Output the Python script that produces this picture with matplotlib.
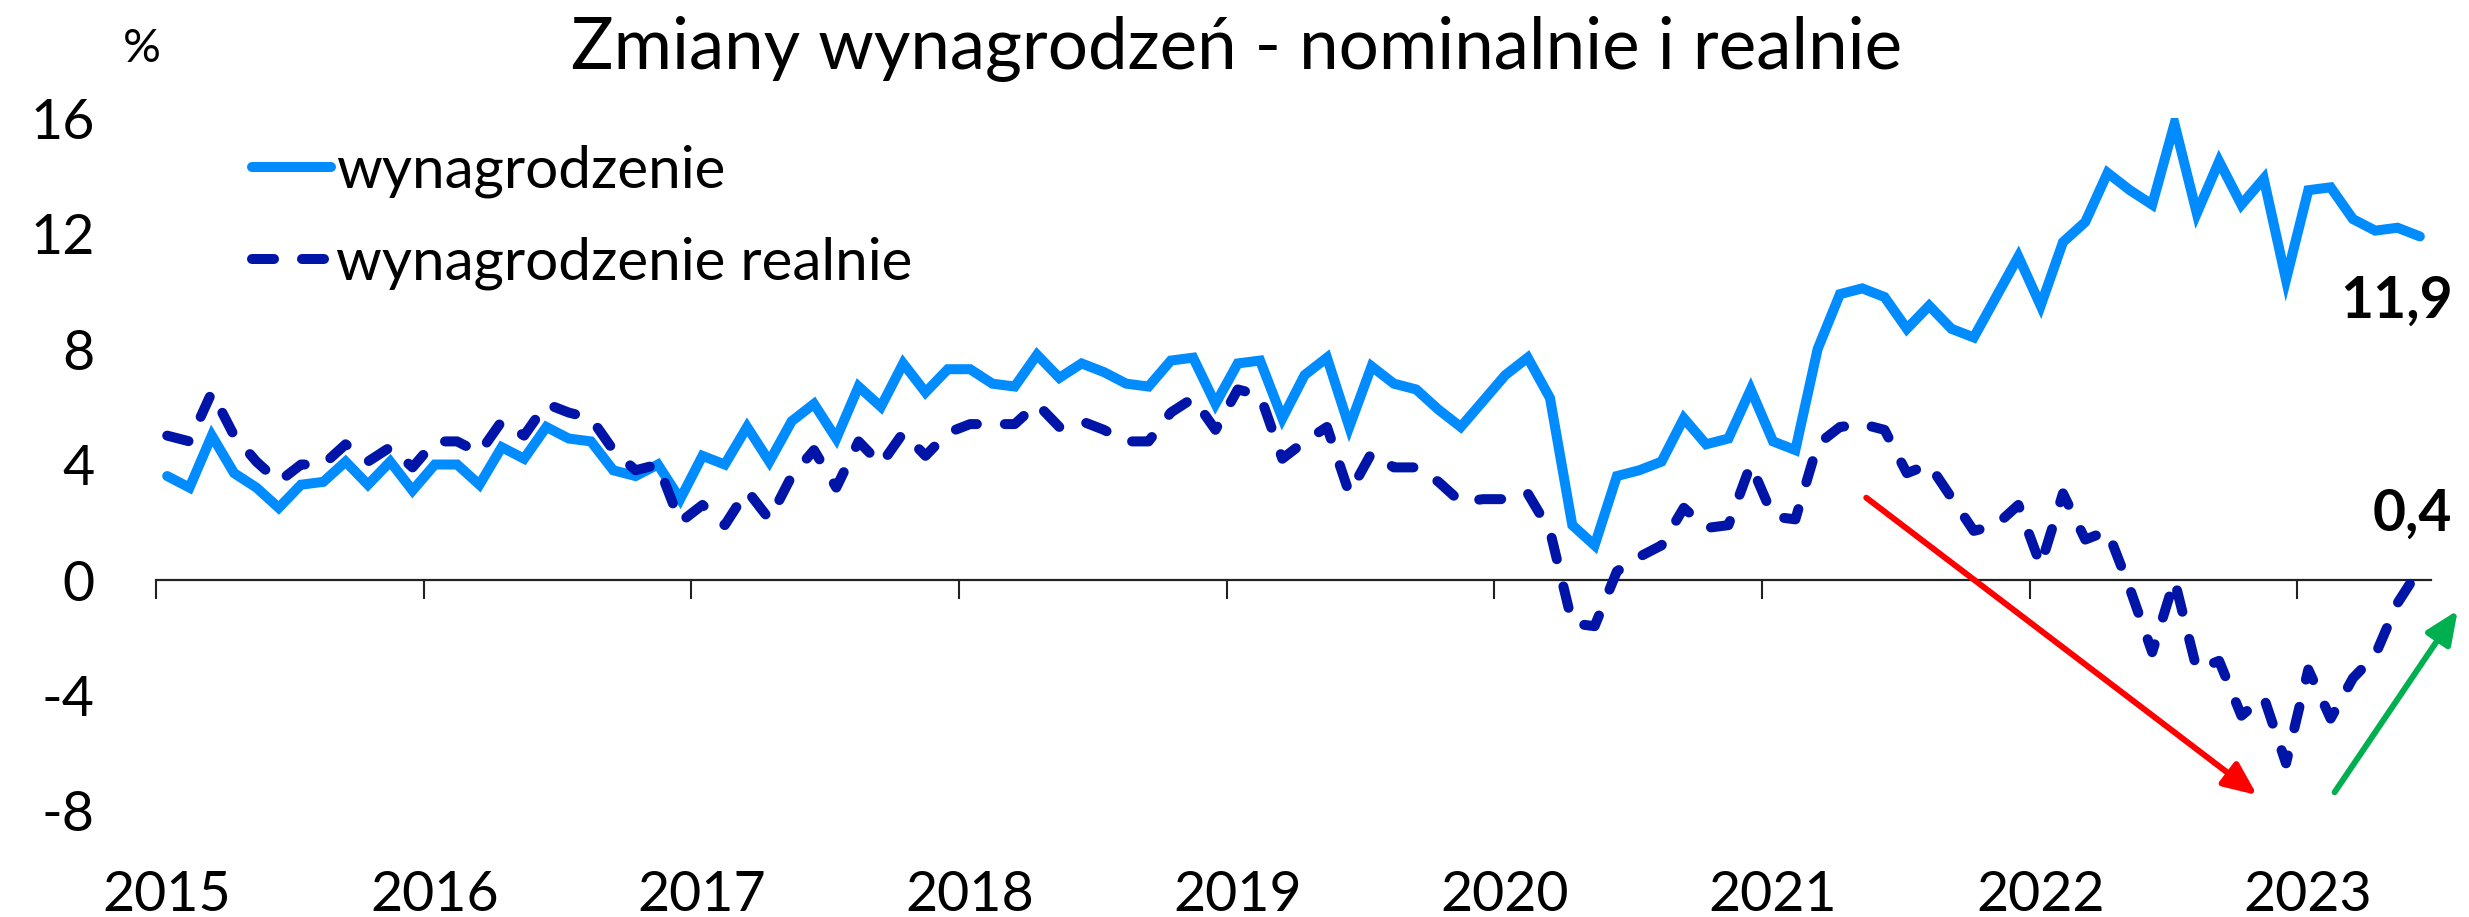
import matplotlib
matplotlib.use("Agg")
import matplotlib.pyplot as plt
import pandas as pd

plt.rcParams["font.family"] = ["Lato", "DejaVu Sans"]

# monthly data, Jan 2015 - Jun 2023, y/y %
MONTHS = pd.date_range("2015-01-01", "2023-06-01", freq="MS")

WAGE_NOMINAL = [
    3.6, 3.2, 5.0, 3.7, 3.2, 2.5, 3.3, 3.4, 4.1, 3.3, 4.1, 3.1,
    4.0, 4.0, 3.3, 4.6, 4.2, 5.3, 4.9, 4.8, 3.8, 3.6, 4.0, 2.8,
    4.3, 4.0, 5.3, 4.1, 5.5, 6.1, 4.9, 6.7, 6.0, 7.5, 6.5, 7.3,
    7.3, 6.8, 6.7, 7.8, 7.0, 7.5, 7.2, 6.8, 6.7, 7.6, 7.7, 6.1,
    7.5, 7.6, 5.6, 7.1, 7.7, 5.3, 7.4, 6.8, 6.6, 5.9, 5.3, 6.2,
    7.1, 7.7, 6.3, 1.9, 1.2, 3.6, 3.8, 4.1, 5.6, 4.7, 4.9, 6.6,
    4.8, 4.5, 8.0, 9.9, 10.1, 9.8, 8.7, 9.5, 8.7, 8.4, 9.8, 11.2,
    9.5, 11.7, 12.4, 14.1, 13.5, 13.0, 15.8, 12.7, 14.5, 13.0, 13.9, 10.4,
    13.5, 13.6, 12.5, 12.1, 12.2, 11.9,
]

WAGE_REAL = [
    5.0, 4.8, 6.5, 5.0, 4.1, 3.4, 4.0, 4.0, 4.7, 4.1, 4.6, 3.9,
    4.8, 4.8, 4.4, 5.5, 5.0, 6.1, 5.8, 5.6, 4.5, 3.8, 4.0, 2.0,
    2.6, 1.9, 3.1, 2.1, 3.6, 4.5, 3.2, 4.8, 4.0, 5.1, 4.3, 5.1,
    5.4, 5.4, 5.4, 6.1, 5.3, 5.5, 5.2, 4.8, 4.8, 5.8, 6.3, 5.2,
    6.6, 6.4, 4.2, 4.8, 5.3, 3.0, 4.4, 3.9, 3.9, 3.4, 2.7, 2.8,
    2.8, 3.0, 1.7, -1.5, -1.6, 0.3, 0.8, 1.2, 2.5, 1.8, 1.9, 4.0,
    2.2, 2.1, 4.7, 5.3, 5.4, 5.2, 3.7, 4.0, 2.85, 1.7, 1.9, 2.6,
    0.5, 3.0, 1.4, 1.7, -0.3, -2.5, 0.0, -3.1, -2.8, -4.7, -4.05, -6.35,
    -3.1, -4.8, -3.4, -2.6, -0.8, 0.4,
]

SERIES_LABELS = ["wynagrodzenie", "wynagrodzenie realnie"]
TITLE = "Zmiany wynagrodzeń - nominalnie i realnie"
YEARS = list(range(2015, 2024))
Y_TICKS = [-8, -4, 0, 4, 8, 12, 16]
LAST_LABELS = ["11,9", "0,4"]

C_NOMINAL = "#008CFF"
C_REAL = "#0014A8"

# trend arrows: (decimal year, value) start -> end
RED_ARROW = [(2021.39, 2.85), (2022.85, -7.45)]
GREEN_ARROW = [(2023.14, -7.35), (2023.60, -1.05)]

FS_TICK = 40
FS_LEGEND = 42
FS_TITLE = 51


def main():
    x = MONTHS.year + (MONTHS.month - 0.5) / 12.0

    fig = plt.figure(figsize=(24.69, 9.17), dpi=100)
    ax = fig.add_axes([0.0632, 0.1156, 0.9214, 0.7557])

    ax.plot(x, WAGE_NOMINAL, color=C_NOMINAL, lw=7.2,
            solid_joinstyle="miter", solid_capstyle="round",
            label=SERIES_LABELS[0], zorder=3)
    ax.plot(x, WAGE_REAL, color=C_REAL, lw=7.2, linestyle=(0, (2.2, 2.8)),
            dash_capstyle="round", dash_joinstyle="round",
            label=SERIES_LABELS[1], zorder=4)

    ax.set_xlim(2015, 2023.5)
    ax.set_ylim(-8, 16)

    for side in ["left", "right", "top"]:
        ax.spines[side].set_visible(False)
    ax.spines["bottom"].set_position(("data", 0))
    ax.spines["bottom"].set_linewidth(1.6)
    ax.spines["bottom"].set_color("#222222")
    ax.spines["bottom"].set_zorder(2)

    ax.set_xticks(YEARS)
    ax.set_xticklabels([""] * len(YEARS))
    ax.tick_params(axis="x", direction="out", length=14, width=1.5,
                   color="#222222")
    for yr in YEARS:
        ax.text(yr + 0.04, -0.122, str(yr), transform=ax.get_xaxis_transform(),
                ha="center", va="center", fontsize=FS_TICK)

    ax.set_yticks(Y_TICKS)
    ax.set_yticklabels([str(v) for v in Y_TICKS], fontsize=FS_TICK)
    ax.tick_params(axis="y", length=0, pad=44)

    # last values
    ax.text(2023.58, 9.07, LAST_LABELS[0], ha="right", va="baseline",
            fontsize=41, fontweight="bold")
    ax.text(2023.58, 1.7, LAST_LABELS[1], ha="right", va="baseline",
            fontsize=41, fontweight="bold")

    for arrow, col in [(RED_ARROW, "#FF0000"), (GREEN_ARROW, "#00B050")]:
        ax.annotate("", xy=arrow[1], xytext=arrow[0],
                    arrowprops=dict(arrowstyle="-|>,head_length=0.8,head_width=0.35",
                                    color=col, lw=4.3, mutation_scale=25,
                                    shrinkA=0, shrinkB=0),
                    annotation_clip=False, zorder=5)

    ax.legend(loc="upper left", bbox_to_anchor=(0.102, 0.842),
              bbox_transform=fig.transFigure, frameon=False, fontsize=FS_LEGEND,
              handlelength=1.35, handletextpad=0.1, labelspacing=0.65,
              borderpad=0, borderaxespad=0)

    fig.text(0.5007, 0.947, TITLE, ha="center", va="center", fontsize=FS_TITLE)
    fig.text(142 / 2469, 0.947, "%", ha="center", va="center", fontsize=34)

    fig.savefig("out.png", dpi=100)


if __name__ == "__main__":
    main()
